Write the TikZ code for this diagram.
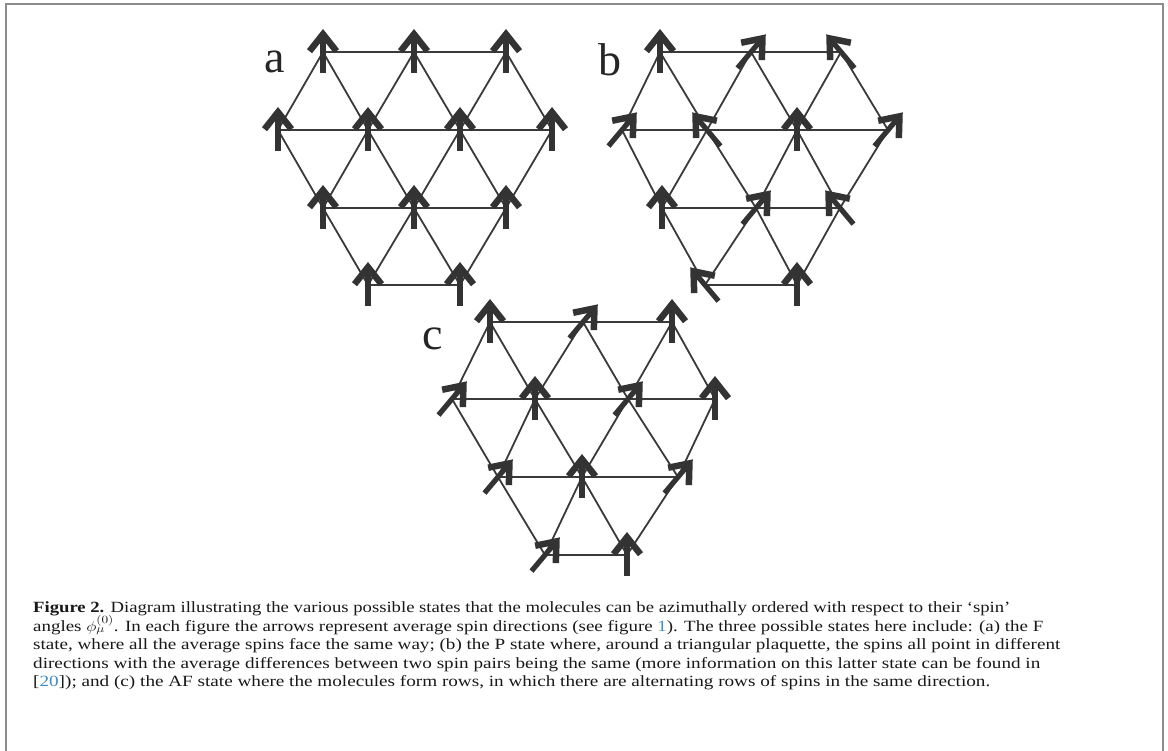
\documentclass[tikz,border=0pt]{standalone}
\usepackage{fontspec}
\setmainfont{Liberation Serif}
\usetikzlibrary{arrows.meta,calc}
\definecolor{ink}{HTML}{333333}
\definecolor{edgecol}{HTML}{3A3A3A}
\definecolor{framecol}{HTML}{8C8C8C}
\definecolor{linkblue}{HTML}{3C8DC5}
\begin{document}
\begin{tikzpicture}[x=1pt,y=-1pt,
  edge/.style={edgecol, line width=1.8pt},
  spin/.style={ink, line width=5.2pt, -{Straight Barb[length=17pt,width=27pt,line width=6.5pt]}},
  panel/.style={inner sep=0pt, font=\fontsize{46}{46}\selectfont, text=black!85},
  capline/.style={anchor=base west, inner sep=0pt, font=\fontsize{15.6}{15.6}\selectfont, text=black!90}]
\useasboundingbox (0,0) rectangle (1168,751);
\fill[white] (0,0) rectangle (1168,751);
\draw[framecol, line width=2pt] (6,751) -- (6,3.7) -- (1163,3.7) -- (1163,751);

% lattice a
\coordinate (a11) at (323,52);  \coordinate (a12) at (414,52);  \coordinate (a13) at (506,52);
\coordinate (a21) at (278,130); \coordinate (a22) at (368,130); \coordinate (a23) at (460,130); \coordinate (a24) at (552,130);
\coordinate (a31) at (323,208); \coordinate (a32) at (414,208); \coordinate (a33) at (506,208);
\coordinate (a41) at (368,285); \coordinate (a42) at (460,285);
% lattice b
\coordinate (b11) at (660,52);  \coordinate (b12) at (751,52);  \coordinate (b13) at (841,52);
\coordinate (b21) at (622,130); \coordinate (b22) at (707,130); \coordinate (b23) at (797,130); \coordinate (b24) at (888,130);
\coordinate (b31) at (662,208); \coordinate (b32) at (756,208); \coordinate (b33) at (840,208);
\coordinate (b41) at (705,285); \coordinate (b42) at (797,285);
% lattice c
\coordinate (c11) at (490,322); \coordinate (c12) at (583,322); \coordinate (c13) at (672,322);
\coordinate (c21) at (452,399); \coordinate (c22) at (535,399); \coordinate (c23) at (628,399); \coordinate (c24) at (715,399);
\coordinate (c31) at (498,477); \coordinate (c32) at (582,477); \coordinate (c33) at (678,477);
\coordinate (c41) at (545,555); \coordinate (c42) at (627,555);

\foreach \L in {a,b,c}{
  \foreach \p/\q in {11/12,12/13,21/22,22/23,23/24,31/32,32/33,41/42,
                     11/21,11/22,12/22,12/23,13/23,13/24,
                     21/31,22/31,22/32,23/32,23/33,24/33,
                     31/41,32/41,32/42,33/42}
    \draw[edge] (\L\p) -- (\L\q);
}

\foreach \L/\p/\t in {
  a/11/-90,a/12/-90,a/13/-90,a/21/-90,a/22/-90,a/23/-90,a/24/-90,a/31/-90,a/32/-90,a/33/-90,a/41/-90,a/42/-90,
  b/11/-90,b/12/-50,b/13/-130,b/21/-50,b/22/-130,b/23/-90,b/24/-50,b/31/-90,b/32/-50,b/33/-130,b/41/-130,b/42/-90,
  c/11/-90,c/12/-50,c/13/-90,c/21/-50,c/22/-90,c/23/-50,c/24/-90,c/31/-50,c/32/-90,c/33/-50,c/41/-50,c/42/-90}
  \draw[spin] ($(\L\p)-(\t:21)$) -- ($(\L\p)+(\t:23)$);

\node[panel] (la) at (275,62) {a};
\node[panel] (lb) at (610,60) {b};
\node[panel] (lc) at (433,339) {c};

\node[capline] (cap1) at (33,612.7) {\resizebox{977pt}{\height}{\textbf{Figure 2.} Diagram illustrating the various possible states that the molecules can be azimuthally ordered with respect to their `spin'}};
\node[capline] (cap2) at (33,631.3) {\resizebox{1010pt}{\height}{angles $\phi_\mu^{(0)}$. In each figure the arrows represent average spin directions (see figure {\color{linkblue}1}). The three possible states here include: (a) the F}};
\node[capline] (cap3) at (33,649.7) {\resizebox{1027pt}{\height}{state, where all the average spins face the same way; (b) the P state where, around a triangular plaquette, the spins all point in different}};
\node[capline] (cap4) at (33,668.1) {\resizebox{1007pt}{\height}{directions with the average differences between two spin pairs being the same (more information on this latter state can be found in}};
\node[capline] (cap5) at (33,686.5) {\resizebox{957pt}{\height}{[{\color{linkblue}20}]); and (c) the AF state where the molecules form rows, in which there are alternating rows of spins in the same direction.}};
\end{tikzpicture}
\end{document}
